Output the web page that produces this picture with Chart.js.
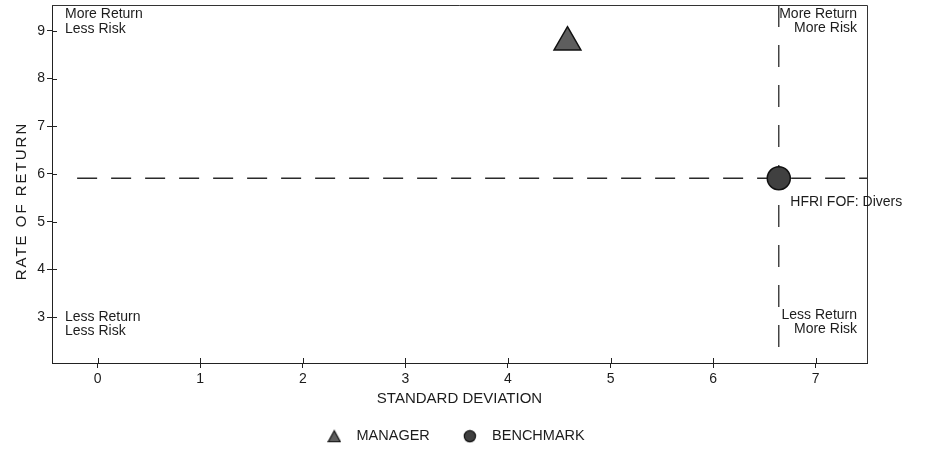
<!DOCTYPE html>
<html><head><meta charset="utf-8">
<script src="https://cdn.jsdelivr.net/npm/chart.js@4.4.0/dist/chart.umd.min.js"></script>
<style>html,body{margin:0;padding:0;background:#fff;}</style>
</head><body>
<canvas id="c" width="930" height="450"></canvas>
<script>
// ---- data ----
const seriesNames = ['MANAGER', 'BENCHMARK'];
const stdDeviation = [4.58, 6.64];
const rateOfReturn = [8.76, 5.91];
const benchmarkName = 'HFRI FOF: Divers';
const xTicks = [0, 1, 2, 3, 4, 5, 6, 7];
const yTicks = [3, 4, 5, 6, 7, 8, 9];
const xRange = [-0.445, 7.5];
const yRange = [2.04, 9.54];
const hLineStartX = -0.2;
const xTitle = 'STANDARD DEVIATION';
const yTitle = 'RATE OF RETURN';
const quadTopLeft = ['More Return', 'Less Risk'];
const quadTopRight = ['More Return', 'More Risk'];
const quadBottomLeft = ['Less Return', 'Less Risk'];
const quadBottomRight = ['Less Return', 'More Risk'];

const FONT = '"Liberation Sans", Arial, sans-serif';
const INK = '#1c1c1c';
const TRI_FILL = '#5e5e5e';
const CIRC_FILL = '#404040';

function makeIcon(kind) {
  const c = document.createElement('canvas');
  c.width = 14; c.height = 14;
  const g = c.getContext('2d');
  g.fillStyle = kind === 'triangle' ? TRI_FILL : CIRC_FILL;
  g.strokeStyle = '#111';
  g.lineWidth = 1.2;
  g.beginPath();
  if (kind === 'triangle') {
    g.moveTo(7, 1.5); g.lineTo(13, 12.5); g.lineTo(1, 12.5); g.closePath();
  } else {
    g.arc(7, 7, 5.6, 0, Math.PI * 2);
  }
  g.fill(); g.stroke();
  return c;
}
const legendIcons = [makeIcon('triangle'), makeIcon('circle')];

const decor = {
  id: 'decor',
  afterDraw(chart) {
    const ctx = chart.ctx;
    const a = chart.chartArea;
    const xs = chart.scales.x, ys = chart.scales.y;
    ctx.save();
    // top and right frame
    ctx.strokeStyle = '#333';
    ctx.lineWidth = 1;
    ctx.beginPath();
    ctx.moveTo(a.left, a.top + 0.5); ctx.lineTo(a.right + 0.5, a.top + 0.5);
    ctx.lineTo(a.right + 0.5, a.bottom);
    ctx.stroke();
    // inner half of crossing tick marks
    ctx.strokeStyle = '#222';
    ctx.beginPath();
    xs.ticks.forEach(t => {
      const px = Math.round(xs.getPixelForValue(t.value)) + 0.5;
      ctx.moveTo(px, a.bottom); ctx.lineTo(px, a.bottom - 5);
    });
    ys.ticks.forEach(t => {
      const py = Math.round(ys.getPixelForValue(t.value)) + 0.5;
      ctx.moveTo(a.left, py); ctx.lineTo(a.left + 5, py);
    });
    ctx.stroke();

    ctx.fillStyle = INK;
    ctx.font = '14px ' + FONT;
    ctx.textBaseline = 'alphabetic';
    // quadrant labels
    ctx.textAlign = 'left';
    ctx.fillText(quadTopLeft[0], a.left + 13, a.top + 13);
    ctx.fillText(quadTopLeft[1], a.left + 13, a.top + 28);
    ctx.fillText(quadBottomLeft[0], a.left + 13, a.bottom - 42);
    ctx.fillText(quadBottomLeft[1], a.left + 13, a.bottom - 28);
    ctx.textAlign = 'right';
    ctx.fillText(quadTopRight[0], a.right - 10, a.top + 13);
    ctx.fillText(quadTopRight[1], a.right - 10, a.top + 27);
    ctx.fillText(quadBottomRight[0], a.right - 10, a.bottom - 44);
    ctx.fillText(quadBottomRight[1], a.right - 10, a.bottom - 30);
    // benchmark label
    const bx = xs.getPixelForValue(stdDeviation[1]);
    const by = ys.getPixelForValue(rateOfReturn[1]);
    ctx.textAlign = 'left';
    ctx.fillText(benchmarkName, bx + 11.5, by + 27.5);
    // y axis title (letter-spaced)
    ctx.save();
    ctx.translate(22, (a.top + a.bottom) / 2 + 17);
    ctx.rotate(-Math.PI / 2);
    ctx.font = '15px ' + FONT;
    ctx.letterSpacing = '2px';
    ctx.textAlign = 'center';
    ctx.textBaseline = 'middle';
    ctx.fillText(yTitle, 0, 0);
    ctx.restore();
    ctx.restore();
  }
};

const markerData = (i) => [{ x: stdDeviation[i], y: rateOfReturn[i] }];

new Chart(document.getElementById('c'), {
  type: 'scatter',
  data: {
    datasets: [
      {
        label: seriesNames[0], data: markerData(0), order: 0,
        pointStyle: 'triangle', pointRadius: 15.5, pointHoverRadius: 15.5,
        backgroundColor: TRI_FILL, borderColor: '#111', borderWidth: 1.5
      },
      {
        label: seriesNames[1], data: markerData(1), order: 0,
        pointStyle: 'circle', pointRadius: 11.5, pointHoverRadius: 11.5,
        backgroundColor: CIRC_FILL, borderColor: '#111', borderWidth: 1.5
      },
      {
        label: 'return-line', order: 1, showLine: true, pointRadius: 0,
        data: [{ x: hLineStartX, y: rateOfReturn[1] }, { x: xRange[1], y: rateOfReturn[1] }],
        borderColor: '#2a2a2a', borderWidth: 1.3, borderDash: [20, 14]
      },
      {
        label: 'risk-line', order: 1, showLine: true, pointRadius: 0,
        data: [{ x: stdDeviation[1], y: yRange[1] }, { x: stdDeviation[1], y: yRange[0] }],
        borderColor: '#2a2a2a', borderWidth: 1.3, borderDash: [22, 18]
      }
    ]
  },
  options: {
    responsive: false,
    animation: false,
    events: [],
    layout: { autoPadding: false, padding: { left: 0, right: 26, top: 5, bottom: 0 } },
    scales: {
      x: {
        type: 'linear', position: 'bottom', min: xRange[0], max: xRange[1],
        afterBuildTicks: s => { s.ticks = xTicks.map(v => ({ value: v })); },
        afterFit: s => { s.height = 41; s.paddingLeft = 0; s.paddingRight = 0; },
        grid: { display: true, drawOnChartArea: false, drawTicks: true, tickLength: 5, color: '#222' },
        border: { display: true, color: '#222', width: 1 },
        ticks: { color: INK, font: { family: FONT, size: 14 }, padding: 3, maxRotation: 0 },
        title: { display: true, text: xTitle, color: INK, font: { family: FONT, size: 15 }, padding: { top: 0, bottom: -4 } }
      },
      y: {
        type: 'linear', position: 'left', min: yRange[0], max: yRange[1],
        afterBuildTicks: s => { s.ticks = yTicks.map(v => ({ value: v })); },
        afterFit: s => { s.width = 52; s.paddingTop = 0; s.paddingBottom = 0; },
        grid: { display: true, drawOnChartArea: false, drawTicks: true, tickLength: 5, color: '#222' },
        border: { display: true, color: '#222', width: 1 },
        ticks: { color: INK, font: { family: FONT, size: 14 }, padding: 2 },
        title: { display: false }
      },
      yRight: {
        type: 'linear', position: 'right', min: yRange[0], max: yRange[1],
        afterFit: s => { s.width = 37; s.paddingTop = 0; s.paddingBottom = 0; },
        grid: { display: false },
        border: { display: false },
        ticks: { display: false },
        title: { display: false }
      }
    },
    plugins: {
      tooltip: { enabled: false },
      legend: {
        display: true, position: 'bottom', align: 'center', maxHeight: 46,
        labels: {
          usePointStyle: true, pointStyleWidth: 30, padding: 25,
          color: INK, font: { family: FONT, size: 14.5 },
          generateLabels(chart) {
            const items = Chart.defaults.plugins.legend.labels.generateLabels(chart);
            return items.filter(it => it.datasetIndex < 2)
              .map(it => Object.assign(it, { pointStyle: legendIcons[it.datasetIndex] }));
          }
        }
      }
    }
  },
  plugins: [decor]
});
</script>
</body></html>
